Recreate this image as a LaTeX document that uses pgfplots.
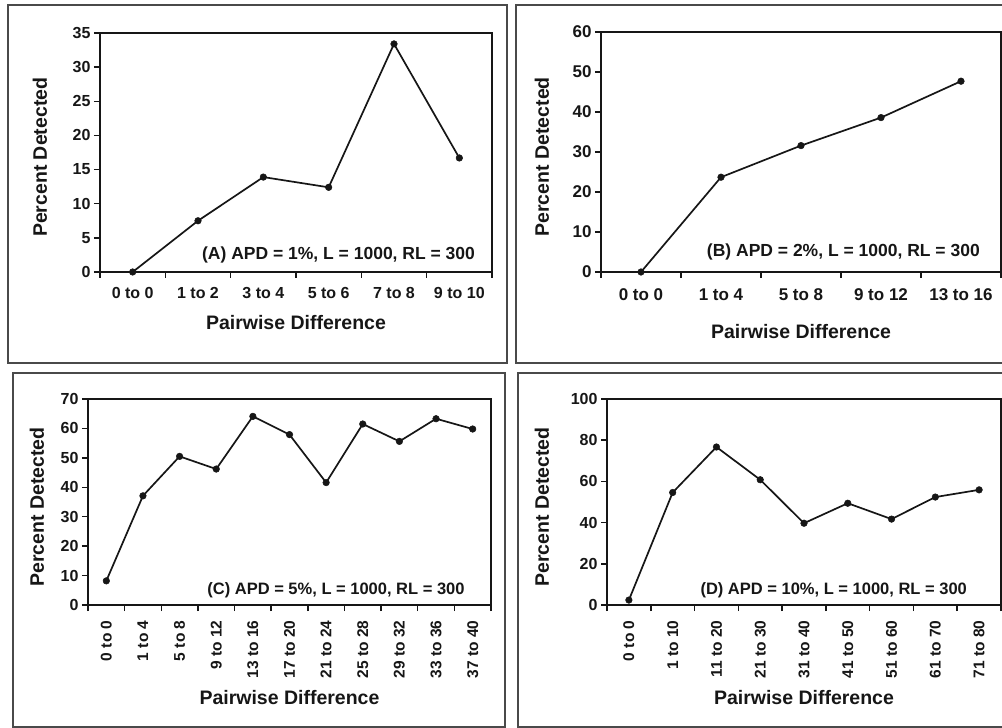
\documentclass[border=0pt]{standalone}
\usepackage{pgfplots}
\pgfplotsset{compat=1.18}
\usepackage{fontspec}
\setmainfont{Liberation Sans}
\newcommand{\fs}[1]{\fontsize{#1bp}{#1bp}\selectfont\bfseries}
\definecolor{ink}{HTML}{161616}
\definecolor{framec}{HTML}{4A4A4A}
\pgfplotsset{
  panel/.style={
    scale only axis, anchor=south west, clip=false,
    axis line style={ink, line width=1.5bp},
    tick pos=left, tick align=outside,
    major tick length=6bp, minor tick length=6bp,
    every tick/.style={ink, line width=1.5bp},
    major x tick style={draw=none},
    ymin=0, xtick=data,
    /pgf/number format/assume math mode=true,
    ylabel={Percent Detected}, xlabel={Pairwise Difference},
    label style={font=\fs{19.5}, text=ink},
    ticklabel style={font=\fs{16}, text=ink},
  },
  ser/.style={ink, line width=1.7bp, mark=*, mark size=3.3bp, mark options={fill=ink, draw=ink, line width=0.5bp}},
}
\begin{document}
\begin{tikzpicture}
\useasboundingbox (0bp,0bp) rectangle (1002bp,728bp);
% outer frames
\draw[framec, line width=2bp] (8bp,365bp) rectangle (507bp,723bp);
\draw[framec, line width=2bp] (516bp,365bp) rectangle (1012bp,723bp);
\draw[framec, line width=2bp] (13bp,1bp) rectangle (505bp,355bp);
\draw[framec, line width=2bp] (518bp,1bp) rectangle (1012bp,355bp);

% Panel A
\begin{axis}[panel, at={(100bp,456bp)}, width=392bp, height=239bp,
  xmin=-0.5, xmax=5.5, ymax=35, ytick={0,5,...,35},
  minor xtick={-0.5,0.5,...,5.5},
  xticklabels={0 to 0,1 to 2,3 to 4,5 to 6,7 to 8,9 to 10},
  xticklabel style={yshift=-6bp},
  xlabel style={at={(axis description cs:0.5,-0.213)}, anchor=center},
  ylabel style={at={(axis description cs:-0.153,0.48)}, anchor=center}]
\addplot[ser] coordinates {(0,0) (1,7.5) (2,13.9) (3,12.4) (4,33.4) (5,16.7)};
\node[anchor=east, inner sep=0pt, font=\fs{17.5}, text=ink] at (rel axis cs:0.957,0.071) {(A) APD = 1\%, L = 1000, RL = 300};
\end{axis}

% Panel B
\begin{axis}[panel, at={(601bp,456bp)}, width=400bp, height=240bp,
  xmin=-0.5, xmax=4.5, ymax=60, ytick={0,10,...,60},
  minor xtick={-0.5,0.5,...,4.5},
  xticklabels={0 to 0,1 to 4,5 to 8,9 to 12,13 to 16},
  ticklabel style={font=\fs{17}},
  xticklabel style={yshift=-7bp},
  xlabel style={at={(axis description cs:0.5,-0.25)}, anchor=center},
  ylabel style={at={(axis description cs:-0.1475,0.48)}, anchor=center}]
\addplot[ser] coordinates {(0,0) (1,23.7) (2,31.6) (3,38.6) (4,47.7)};
\node[anchor=east, inner sep=0pt, font=\fs{17.5}, text=ink] at (rel axis cs:0.9475,0.083) {(B) APD = 2\%, L = 1000, RL = 300};
\end{axis}

% Panel C
\begin{axis}[panel, at={(88bp,123bp)}, width=403bp, height=206bp,
  xmin=-0.5, xmax=10.5, ymax=70, ytick={0,10,...,70},
  minor xtick={-0.5,0.5,...,10.5},
  xticklabels={0 to 0,1 to 4,5 to 8,9 to 12,13 to 16,17 to 20,21 to 24,25 to 28,29 to 32,33 to 36,37 to 40},
  xticklabel style={yshift=-6bp, rotate=90, anchor=east, font=\fs{15.5}},
  xlabel style={at={(axis description cs:0.5,-0.451)}, anchor=center},
  ylabel style={at={(axis description cs:-0.127,0.476)}, anchor=center}]
\addplot[ser] coordinates {(0,8.2) (1,37.1) (2,50.5) (3,46.2) (4,64.1) (5,57.9) (6,41.6) (7,61.5) (8,55.6) (9,63.3) (10,59.8)};
\node[anchor=east, inner sep=0pt, font=\fs{16.5}, text=ink] at (rel axis cs:0.935,0.073) {(C) APD = 5\%, L = 1000, RL = 300};
\end{axis}

% Panel D
\begin{axis}[panel, at={(607bp,123bp)}, width=394bp, height=206bp,
  xmin=-0.5, xmax=8.5, ymax=100, ytick={0,20,...,100},
  minor xtick={-0.5,0.5,...,8.5},
  xticklabels={0 to 0,1 to 10,11 to 20,21 to 30,31 to 40,41 to 50,51 to 60,61 to 70,71 to 80},
  xticklabel style={yshift=-6bp, rotate=90, anchor=east, font=\fs{15.5}},
  xlabel style={at={(axis description cs:0.5,-0.451)}, anchor=center},
  ylabel style={at={(axis description cs:-0.165,0.476)}, anchor=center}]
\addplot[ser] coordinates {(0,2.4) (1,54.6) (2,76.7) (3,60.8) (4,39.7) (5,49.4) (6,41.7) (7,52.4) (8,55.9)};
\node[anchor=east, inner sep=0pt, font=\fs{16.5}, text=ink] at (rel axis cs:0.914,0.073) {(D) APD = 10\%, L = 1000, RL = 300};
\end{axis}
\end{tikzpicture}
\end{document}
